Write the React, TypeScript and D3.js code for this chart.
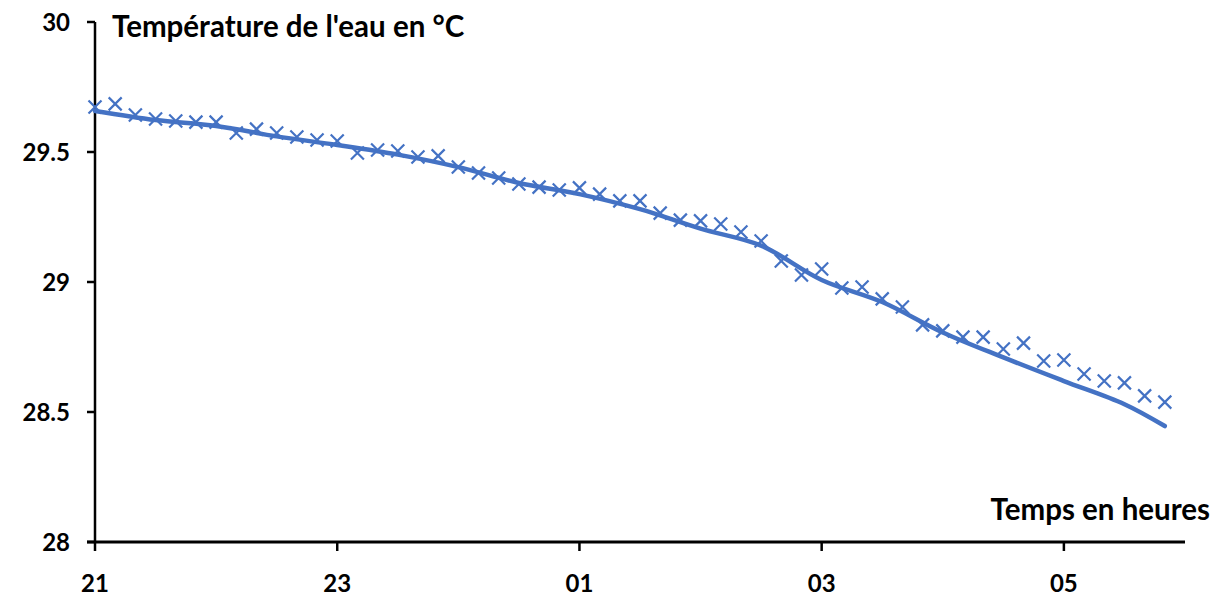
import React from 'react'
import * as d3 from 'd3'

// mesures toutes les 10 minutes à partir de 21h
const measureStart = 21
const measureStepMin = 10
const measured = [
  29.673, 29.685, 29.642, 29.627, 29.619, 29.615, 29.615, 29.573, 29.588, 29.573, 29.558, 29.546,
  29.542, 29.496, 29.508, 29.504, 29.481, 29.485, 29.442, 29.419, 29.4, 29.377, 29.365, 29.354,
  29.362, 29.338, 29.312, 29.312, 29.265, 29.238, 29.235, 29.223, 29.192, 29.158, 29.081, 29.027,
  29.05, 28.977, 28.981, 28.935, 28.904, 28.835, 28.812, 28.788, 28.788, 28.742, 28.765, 28.696,
  28.7, 28.646, 28.619, 28.612, 28.562, 28.538,
]

// courbe modèle (heures, température)
const modelHours = [21, 21.5, 22, 22.5, 23, 23.5, 24, 24.5, 25, 25.5, 26, 26.5, 27, 27.5, 28, 28.5, 29, 29.5, 29.833]
const modelTemps = [29.658, 29.623, 29.6, 29.56, 29.527, 29.49, 29.442, 29.381, 29.338, 29.28, 29.205, 29.14, 29.008, 28.923, 28.806, 28.71, 28.619, 28.53, 28.446]

const xTicks = [21, 23, 25, 27, 29]
const yTicks = [28, 28.5, 29, 29.5, 30]

const W = 1221
const H = 602
const FONT = 'Lato, "Open Sans", sans-serif'
const BLUE = '#4472C4'

export default function App() {
  const x = d3.scaleLinear().domain([21, 30]).range([95, 1185])
  const y = d3.scaleLinear().domain([28, 30]).range([542, 22])

  const points = measured.map((v, i) => ({ h: measureStart + (i * measureStepMin) / 60, v }))
  const model = modelHours.map((h, i) => ({ h, v: modelTemps[i] }))

  const line = d3
    .line<{ h: number; v: number }>()
    .x(d => x(d.h))
    .y(d => y(d.v))
    .curve(d3.curveCatmullRom.alpha(0.5))

  const s = 6.5 // demi-taille des croix

  return (
    <div style={{ position: 'absolute', left: 0, top: 0 }}>
      <svg width={W} height={H} style={{ display: 'block', background: '#fff' }}>
        {/* axe Y */}
        <line x1={x(21)} x2={x(21)} y1={y(30)} y2={y(28)} stroke="#000" strokeWidth={2.5} />
        {yTicks.map(t => (
          <g key={t}>
            <line x1={x(21) - 8} x2={x(21)} y1={y(t)} y2={y(t)} stroke="#000" strokeWidth={2.5} />
            <text
              x={70}
              y={y(t)}
              dy="0.36em"
              textAnchor="end"
              fontFamily={FONT}
              fontWeight={700}
              fontSize={24}
              fill="#000"
            >
              {t}
            </text>
          </g>
        ))}

        {/* axe X */}
        <line x1={x(21) - 8} x2={x(30)} y1={y(28)} y2={y(28)} stroke="#000" strokeWidth={3} />
        {xTicks.map(t => (
          <g key={t}>
            <line x1={x(t)} x2={x(t)} y1={y(28)} y2={y(28) + 9} stroke="#000" strokeWidth={2.5} />
            <text
              x={x(t)}
              y={592}
              textAnchor="middle"
              fontFamily={FONT}
              fontWeight={700}
              fontSize={24}
              fill="#000"
            >
              {String(t % 24).padStart(2, '0')}
            </text>
          </g>
        ))}

        {/* titres des axes */}
        <text x={112} y={37} fontFamily={FONT} fontWeight={700} fontSize={29.5} fill="#000">
          Température de l'eau en °C
        </text>
        <text x={1210} y={520} textAnchor="end" fontFamily={FONT} fontWeight={700} fontSize={29.5} fill="#000">
          Temps en heures
        </text>

        {/* courbe */}
        <path d={line(model) || ''} fill="none" stroke={BLUE} strokeWidth={4.5} strokeLinecap="round" strokeLinejoin="round" />

        {/* mesures */}
        {points.map((p, i) => {
          const cx = x(p.h)
          const cy = y(p.v)
          return (
            <path
              key={i}
              d={`M${cx - s},${cy - s}L${cx + s},${cy + s}M${cx - s},${cy + s}L${cx + s},${cy - s}`}
              stroke={BLUE}
              strokeWidth={2.2}
              fill="none"
            />
          )
        })}
      </svg>
    </div>
  )
}
